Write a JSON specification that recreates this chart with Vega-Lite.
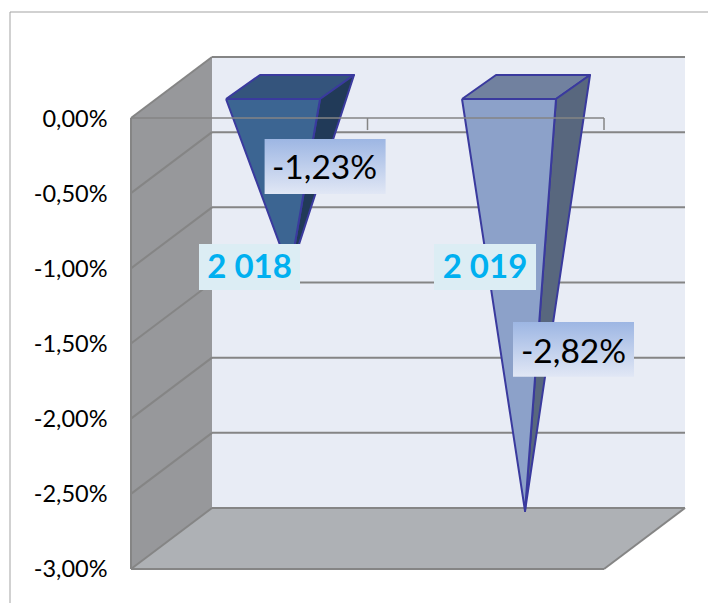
{
"$schema":"https://vega.github.io/schema/vega-lite/v6.json",
"width":598,"height":603,"autosize":"none",
"padding":{"left":110,"top":0,"right":0,"bottom":0},
"background":"white",
"view":{"stroke":null},
"resolve":{"scale":{"fill":"independent"}},
"datasets":{
"walls":[
{"part":"a-left","ord":1,"x":0,"y":0},{"part":"a-left","ord":2,"x":0.3425,"y":0.4058},{"part":"a-left","ord":3,"x":0.3425,"y":-2.5943},{"part":"a-left","ord":4,"x":0,"y":-3},{"part":"a-left","ord":5,"x":0,"y":0},
{"part":"b-back","ord":1,"x":0.3425,"y":0.4058},{"part":"b-back","ord":2,"x":2.3425,"y":0.4058},{"part":"b-back","ord":3,"x":2.3425,"y":-2.5943},{"part":"b-back","ord":4,"x":0.3425,"y":-2.5943},{"part":"b-back","ord":5,"x":0.3425,"y":0.4058},
{"part":"c-floor","ord":1,"x":0,"y":-3},{"part":"c-floor","ord":2,"x":0.3425,"y":-2.5943},{"part":"c-floor","ord":3,"x":2.3425,"y":-2.5943},{"part":"c-floor","ord":4,"x":2,"y":-3},{"part":"c-floor","ord":5,"x":0,"y":-3}
],
"bars":[
{"part":"d-2018-top","ord":1,"x":0.4017,"y":0.1264},{"part":"d-2018-top","ord":2,"x":0.7992,"y":0.1264},{"part":"d-2018-top","ord":3,"x":0.9429,"y":0.286},{"part":"d-2018-top","ord":4,"x":0.5455,"y":0.286},{"part":"d-2018-top","ord":5,"x":0.4017,"y":0.1264},
{"part":"e-2018-side","ord":1,"x":0.7992,"y":0.1264},{"part":"e-2018-side","ord":2,"x":0.9429,"y":0.286},{"part":"e-2018-side","ord":3,"x":0.6723,"y":-1.0244},{"part":"e-2018-side","ord":4,"x":0.7992,"y":0.1264},
{"part":"f-2018-front","ord":1,"x":0.4017,"y":0.1264},{"part":"f-2018-front","ord":2,"x":0.7992,"y":0.1264},{"part":"f-2018-front","ord":3,"x":0.6723,"y":-1.0244},{"part":"f-2018-front","ord":4,"x":0.4017,"y":0.1264},
{"part":"g-2019-top","ord":1,"x":1.3996,"y":0.1264},{"part":"g-2019-top","ord":2,"x":1.797,"y":0.1264},{"part":"g-2019-top","ord":3,"x":1.9408,"y":0.286},{"part":"g-2019-top","ord":4,"x":1.5433,"y":0.286},{"part":"g-2019-top","ord":5,"x":1.3996,"y":0.1264},
{"part":"h-2019-side","ord":1,"x":1.797,"y":0.1264},{"part":"h-2019-side","ord":2,"x":1.9408,"y":0.286},{"part":"h-2019-side","ord":3,"x":1.666,"y":-2.6142},{"part":"h-2019-side","ord":4,"x":1.797,"y":0.1264},
{"part":"i-2019-front","ord":1,"x":1.3996,"y":0.1264},{"part":"i-2019-front","ord":2,"x":1.797,"y":0.1264},{"part":"i-2019-front","ord":3,"x":1.666,"y":-2.6142},{"part":"i-2019-front","ord":4,"x":1.3996,"y":0.1264}
],
"grid":[
{"x":0.3425,"x2":2.3425,"y":0.4058,"y2":0.4058},
{"x":0.3425,"x2":2.3425,"y":-0.0942,"y2":-0.0942},
{"x":0.3425,"x2":2.3425,"y":-0.5942,"y2":-0.5942},
{"x":0.3425,"x2":2.3425,"y":-1.0942,"y2":-1.0942},
{"x":0.3425,"x2":2.3425,"y":-1.5942,"y2":-1.5942},
{"x":0.3425,"x2":2.3425,"y":-2.0942,"y2":-2.0942},
{"x":0.3425,"x2":2.3425,"y":-2.5943,"y2":-2.5943},
{"x":0,"x2":0.3425,"y":0,"y2":0.4058},
{"x":0,"x2":0.3425,"y":-0.5,"y2":-0.0942},
{"x":0,"x2":0.3425,"y":-1,"y2":-0.5942},
{"x":0,"x2":0.3425,"y":-1.5,"y2":-1.0942},
{"x":0,"x2":0.3425,"y":-2,"y2":-1.5942},
{"x":0,"x2":0.3425,"y":-2.5,"y2":-2.0942},
{"x":0,"x2":0.3425,"y":-3,"y2":-2.5943},
{"x":2,"x2":2.3425,"y":-3,"y2":-2.5943},
{"x":0,"x2":2,"y":-3,"y2":-3},
{"x":0,"x2":0,"y":0,"y2":-3}
],
"axisline":[
{"x":0,"x2":2,"y":0,"y2":0},
{"x":1,"x2":1,"y":0,"y2":-0.08},
{"x":2,"x2":2,"y":0,"y2":-0.08}
],
"frame":[
{"x":-0.5116,"x2":2.4397,"y":0.7051,"y2":0.7051},
{"x":-0.5116,"x2":-0.5116,"y":0.7051,"y2":-3.2262}
],
"valueBoxes":[
{"x":0.5649,"x2":1.0765,"y":-0.1397,"y2":-0.5056,"tx":0.8182,"ty":-0.34,"label":"-1,23%"},
{"x":1.6152,"x2":2.1268,"y":-1.357,"y2":-1.7208,"tx":1.871,"ty":-1.56,"label":"-2,82%"}
],
"catBoxes":[
{"x":0.2875,"x2":0.7146,"y":-0.8382,"y2":-1.1442,"tx":0.5011,"ty":-1.0,"label":"2 018"},
{"x":1.2812,"x2":1.7125,"y":-0.8382,"y2":-1.1442,"tx":1.4968,"ty":-1.0,"label":"2 019"}
]
},
"encoding":{
"x":{"field":"x","type":"quantitative","scale":{"domain":[-0.0888,2.4397],"nice":false,"zero":false},"axis":null},
"y":{"field":"y","type":"quantitative","scale":{"domain":[-3.2262,0.785],"nice":false,"zero":false},
"axis":{"values":[0,-0.5,-1,-1.5,-2,-2.5,-3],"title":null,"domain":false,"ticks":false,"grid":false,"labelPadding":3,"labelOffset":1,"labelFont":"Lato","labelFontSize":23.5,"labelColor":"#000000",
"labelExpr":"(datum.value<0?'-':'')+replace(format(abs(datum.value),'.2f'),'.',',')+'%'"}}
},
"layer":[
{"data":{"name":"frame"},"mark":{"type":"rule","stroke":"#a3a3a3","strokeWidth":1},"encoding":{"x2":{"field":"x2"},"y2":{"field":"y2"}}},
{"data":{"name":"walls"},"mark":{"type":"line","strokeWidth":0},
"encoding":{"order":{"field":"ord"},"fill":{"field":"part","type":"nominal","legend":null,"scale":{"domain":["a-left","b-back","c-floor"],"range":["#97989b","#e8ecf5","#aeb1b5"]}}}},
{"data":{"name":"grid"},"mark":{"type":"rule","stroke":"#858585","strokeWidth":2},"encoding":{"x2":{"field":"x2"},"y2":{"field":"y2"}}},
{"data":{"name":"bars"},"mark":{"type":"line","stroke":"#3a3a9e","strokeWidth":2,"strokeJoin":"round"},
"encoding":{"order":{"field":"ord"},"fill":{"field":"part","type":"nominal","legend":null,"scale":{"domain":["d-2018-top","e-2018-side","f-2018-front","g-2019-top","h-2019-side","i-2019-front"],"range":["#34547c","#213a58","#3c6592","#71819f","#58677e","#8ca1c9"]}}}},
{"data":{"name":"axisline"},"mark":{"type":"rule","stroke":"#858585","strokeWidth":1.5},"encoding":{"x2":{"field":"x2"},"y2":{"field":"y2"}}},
{"data":{"name":"valueBoxes"},"mark":{"type":"rect","fill":{"x1":0,"y1":0,"x2":0,"y2":1,"gradient":"linear","stops":[{"offset":0,"color":"#9db6e3"},{"offset":1,"color":"#e1e7f5"}]}},"encoding":{"x2":{"field":"x2"},"y2":{"field":"y2"}}},
{"data":{"name":"valueBoxes"},"mark":{"type":"text","font":"Lato","fontSize":33.5,"color":"#000000","align":"center","baseline":"middle"},"encoding":{"x":{"field":"tx","type":"quantitative"},"y":{"field":"ty","type":"quantitative"},"text":{"field":"label"}}},
{"data":{"name":"catBoxes"},"mark":{"type":"rect","fill":"#dcedf4"},"encoding":{"x2":{"field":"x2"},"y2":{"field":"y2"}}},
{"data":{"name":"catBoxes"},"mark":{"type":"text","font":"Lato","fontSize":33,"fontWeight":"bold","color":"#00b0f0","align":"center","baseline":"middle"},"encoding":{"x":{"field":"tx","type":"quantitative"},"y":{"field":"ty","type":"quantitative"},"text":{"field":"label"}}}
]
}
